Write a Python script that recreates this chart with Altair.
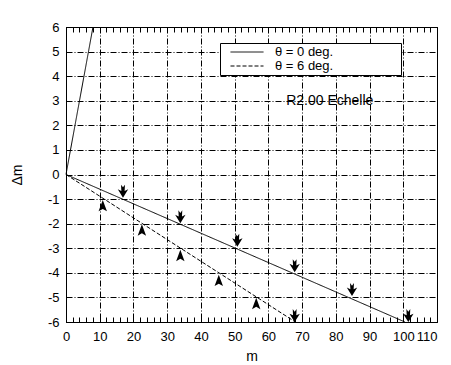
import altair as alt
import pandas as pd

FONT = "Liberation Sans"

SERIES = ["θ = 0 deg.", "θ = 6 deg."]
# line vertices (m, Δm)
L0_M = [8.0, 0.0, 100.5]
L0_D = [6.0, 0.0, -6.0]
L6_M = [0.0, 68.0]
L6_D = [0.0, -6.0]

# arrow markers
DOWN_M = [16.9, 33.9, 50.8, 67.8, 84.8, 67.8, 101.5]
DOWN_D = [-0.68, -1.72, -2.67, -3.71, -4.68, -5.74, -5.74]
UP_M = [10.9, 22.5, 33.9, 45.3, 56.4]
UP_D = [-1.28, -2.27, -3.31, -4.32, -5.26]

X_TICKS = list(range(0, 111, 2))
Y_TICKS = list(range(-6, 7))
NOTE = "R2.00 Echelle"
NOTE_M, NOTE_D = 78.2, 3.0

rows = []
for i, (m, d) in enumerate(zip(L0_M, L0_D)):
    rows.append({"series": SERIES[0], "m": m, "dm": d, "k": i})
for i, (m, d) in enumerate(zip(L6_M, L6_D)):
    rows.append({"series": SERIES[1], "m": m, "dm": d, "k": i})
lines_df = pd.DataFrame(rows)
down_df = pd.DataFrame({"m": DOWN_M, "dm": DOWN_D})
up_df = pd.DataFrame({"m": UP_M, "dm": UP_D})
note_df = pd.DataFrame({"m": [NOTE_M], "dm": [NOTE_D], "t": [NOTE]})

xscale = alt.Scale(domain=[0, 110], nice=False, zero=False)
yscale = alt.Scale(domain=[-6, 6], nice=False)

grid10 = {"condition": {"test": "datum.value % 10 === 0", "value": 1}, "value": 0}
alignX = {"condition": {"test": "datum.value === 110", "value": "right"}, "value": "center"}

x_bottom = alt.Axis(
    orient="bottom", values=X_TICKS,
    labelExpr="datum.value % 10 === 0 ? '' + datum.value : ''",
    labelOverlap=False, labelAlign=alignX,
    grid=True, gridOpacity=grid10, gridDash=[6, 2, 1, 2], gridColor="black", gridWidth=1,
    domainColor="black", tickColor="black", tickSize={"expr": "-5"},
    labelFontSize=13, labelColor="black", labelFont=FONT, labelPadding=13,
    title="m", titleFontSize=14, titleFontWeight="normal", titleFont=FONT,
    titleColor="black", titlePadding=6,
)
y_left = alt.Axis(
    orient="left", values=Y_TICKS, labelExpr="'' + datum.value",
    grid=True, gridDash=[6, 2, 1, 2], gridColor="black", gridWidth=1,
    domainColor="black", ticks=False,
    labelFontSize=13, labelColor="black", labelFont=FONT, labelPadding=7,
    title="Δm", titleFontSize=14, titleFontWeight="normal", titleFont=FONT,
    titleColor="black", titlePadding=23,
)
x_top = alt.Axis(
    orient="top", values=X_TICKS, labels=False, grid=False,
    domainColor="black", tickColor="black", tickSize={"expr": "-5"}, title=None,
)

# trailing non-breaking spaces (kept from trimming by a zero-width space) widen the legend box
nb = "\u00a0" * 18 + "\u200b"
lines = alt.Chart(lines_df).mark_line(color="black", strokeWidth=1).encode(
    x=alt.X("m:Q", scale=xscale, axis=x_bottom),
    y=alt.Y("dm:Q", scale=yscale, axis=y_left),
    order="k:Q",
    strokeDash=alt.StrokeDash(
        "series:N",
        scale=alt.Scale(domain=SERIES, range=[[1, 0], [4, 2]]),
        legend=alt.Legend(
            title=None, orient="none", legendX=154, legendY=16,
            strokeColor="black", fillColor="white", padding=2,
            symbolType="stroke", symbolSize=1089, symbolStrokeColor="black",
            symbolStrokeWidth=1, symbolOffset=8, labelOffset=11, clipHeight=14,
            labelFontSize=13, labelFont=FONT, labelColor="black", rowPadding=0,
            labelLimit=300,
            labelExpr=f"datum.label + '{nb}'",
        ),
    ),
)

DOWN_PATH = "M0,1 L-0.8,-0.3 L-0.25,-0.05 L-0.3,-1 L0,-0.6 L0.3,-1 L0.25,-0.05 L0.8,-0.3 Z"
UP_PATH = "M0,-1 L0.7,0.9 L0,0.5 L-0.7,0.9 Z"

down = alt.Chart(down_df).mark_point(shape=DOWN_PATH, filled=True, color="black", size=169, opacity=1).encode(
    x=alt.X("m:Q", scale=xscale, axis=x_top),
    y=alt.Y("dm:Q", scale=yscale, axis=None),
)
up = alt.Chart(up_df).mark_point(shape=UP_PATH, filled=True, color="black", size=144, opacity=1).encode(
    x=alt.X("m:Q", scale=xscale, axis=None),
    y=alt.Y("dm:Q", scale=yscale, axis=None),
)
note = alt.Chart(note_df).mark_text(font=FONT, fontSize=14, color="black", align="center", baseline="middle").encode(
    x=alt.X("m:Q", scale=xscale, axis=None),
    y=alt.Y("dm:Q", scale=yscale, axis=None),
    text="t:N",
)

chart = alt.layer(lines, down, up, note).resolve_axis(x="independent", y="independent").properties(
    width=371, height=295,
    autosize=alt.AutoSizeParams(type="none"),
    padding={"left": 58, "top": 19, "right": 6, "bottom": 40},
    background="white",
).configure_view(stroke="black", strokeWidth=1)

chart.save("out.html", embed_options={"renderer": "svg", "actions": False})
